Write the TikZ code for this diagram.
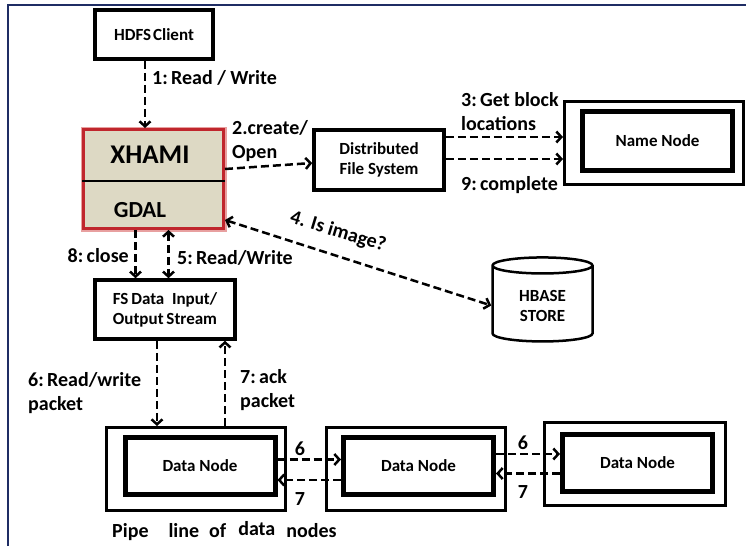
\documentclass[tikz,border=0pt]{standalone}
\usepackage{fontspec}
\setmainfont{Carlito}
\usetikzlibrary{arrows.meta,shapes.geometric}

\definecolor{framenavy}{RGB}{31,45,100}
\definecolor{xhamired}{RGB}{192,38,45}
\definecolor{xhamiglow}{RGB}{232,160,160}
\definecolor{xhamifill}{RGB}{221,217,196}

\newcommand{\boxfont}{\fontsize{17}{20}\selectfont\bfseries}
\newcommand{\lblfont}{\fontsize{20}{24}\selectfont\bfseries}

\begin{document}
\begin{tikzpicture}[x=1pt,y=-1pt]
  \tikzset{box/.style={draw,line width=3.5pt,fill=white,align=center,font=\boxfont,inner sep=2pt},
           outbox/.style={draw,line width=3pt,minimum width=179pt,minimum height=83pt},
           inbox/.style={draw,line width=5pt,minimum width=150pt,minimum height=57pt,font=\boxfont},
           lbl/.style={font=\lblfont,align=left,inner sep=0pt},
           flow/.style={line width=2.5pt,dash pattern=on 8pt off 4pt,-{Straight Barb[length=5pt,width=11pt]}},
           flow2/.style={flow,{Straight Barb[length=5pt,width=11pt]}-{Straight Barb[length=5pt,width=11pt]}}}
  \useasboundingbox (0,0) rectangle (746,546);
  \draw[framenavy,line width=2pt] (8,546) -- (8,5) -- (746,5);

  % boxes
  \node[box,minimum width=118pt,minimum height=49pt] (hdfs) at (154,34.5) {HDFS\hspace{2pt}Client};
  \node[draw=xhamiglow,line width=6pt,minimum width=140pt,minimum height=99pt] at (153.5,179) {};
  \node[draw=xhamired,fill=xhamifill,line width=3pt,minimum width=140pt,minimum height=99pt] (xhami) at (153.5,179) {};
  \draw[line width=1.5pt] ([yshift=-2pt]xhami.west) -- ([yshift=-2pt]xhami.east);
  \node[font=\fontsize{27}{30}\selectfont\bfseries] (xtxt) at (150,155) {XHAMI};
  \node[font=\fontsize{23}{26}\selectfont\bfseries] (gtxt) at (140,210) {GDAL};
  \node[box,minimum width=130pt,minimum height=60pt] (dfs) at (379,160) {Distributed\\File System};
  \node[outbox] (nn) at (654,142.5) {};
  \node[inbox,minimum height=59pt] (nnin) at (657.5,141) {Name Node};
  \node[cylinder,draw,line width=2.5pt,shape border rotate=90,aspect=0.3,
        minimum width=100pt,minimum height=84pt,align=center,font=\boxfont] (hbase) at (542.5,305.5) {HBASE\\STORE};
  \node[box,minimum width=140pt,minimum height=59pt] (fs) at (165,309.5) {FS\,Data\ \ Input/\\Output\,Stream};

  % pipe line
  \node[outbox] (dn1) at (196,469) {};
  \node[inbox] (dnin1) at (200,465.5) {Data Node};
  \node[outbox] (dn2) at (415.5,469) {};
  \node[inbox] (dnin2) at (418.5,466) {Data Node};
  \node[outbox,minimum width=181pt] (dn3) at (635,464) {};
  \node[inbox] (dnin3) at (637.5,462.5) {Data Node};

  % connectors
  \draw[flow] ([xshift=-9pt]hdfs.south) -- ([xshift=-9pt]hdfs.south |- xhami.north);
  \draw[flow] ([yshift=10pt]xhami.east) -- ([yshift=-3pt]dfs.west);
  \draw[flow] ([yshift=23pt]dfs.east) coordinate (s3) -- (s3 -| nn.west);
  \draw[flow] ([yshift=1pt]dfs.east) coordinate (s9) -- (s9 -| nn.west);
  \draw[flow2] ([yshift=-41pt]xhami.east) -- (hbase.west);
  \draw[flow] ([xshift=-18pt]xhami.south) coordinate (s8) -- (s8 |- fs.north);
  \draw[flow2] ([xshift=15pt]xhami.south) coordinate (s5) -- (s5 |- fs.north);
  \draw[flow] ([xshift=-8pt]fs.south) coordinate (s6) -- (s6 |- dn1.north);
  \draw[flow] ([xshift=29pt]dn1.north) coordinate (s7) -- (s7 |- fs.south);
  \draw[flow] ([yshift=6pt]dnin1.east) coordinate (a6) -- (a6 -| dnin2.west);
  \draw[flow] ([yshift=-14pt]dnin2.west) coordinate (a7) -- (a7 -| dnin1.east);
  \draw[flow] ([yshift=12pt]dnin2.east) coordinate (b6) -- (b6 -| dnin3.west);
  \draw[flow] ([yshift=-11pt]dnin3.west) coordinate (b7) -- (b7 -| dnin2.east);

  % labels
  \node[lbl,anchor=west] (l1) at (152,78) {1:\,Read / Write};
  \node[lbl,anchor=north west] (l2) at (232,120) {2.create/\\Open};
  \node[lbl,anchor=south west] (l3) at (461,131) {3:\,Get block\\locations};
  \node[lbl,anchor=west] (l9) at (461,185) {9:\,complete};
  \node[lbl,rotate=-17] (l4) at (338,232) {4. Is image?};
  \node[lbl,anchor=east] (l8) at (129,256) {8:\,close};
  \node[lbl,anchor=west] (l5) at (177,258) {5:\,Read/Write};
  \node[lbl,anchor=north west] (l6) at (28,372) {6:\,Read/write\\packet};
  \node[lbl,anchor=north west] (l7) at (240,369) {7:\,ack\\packet};
  \node[lbl] (p6a) at (300,449) {6};
  \node[lbl] (p7a) at (300,499) {7};
  \node[lbl] (p6b) at (523,443) {6};
  \node[lbl] (p7b) at (523,492) {7};
  \node[lbl,anchor=west] (cap) at (112,531) {Pipe\hspace{20pt}line\hspace{10pt}of\hspace{12pt}\raisebox{2pt}{data}\hspace{11pt}nodes};
\end{tikzpicture}
\end{document}
